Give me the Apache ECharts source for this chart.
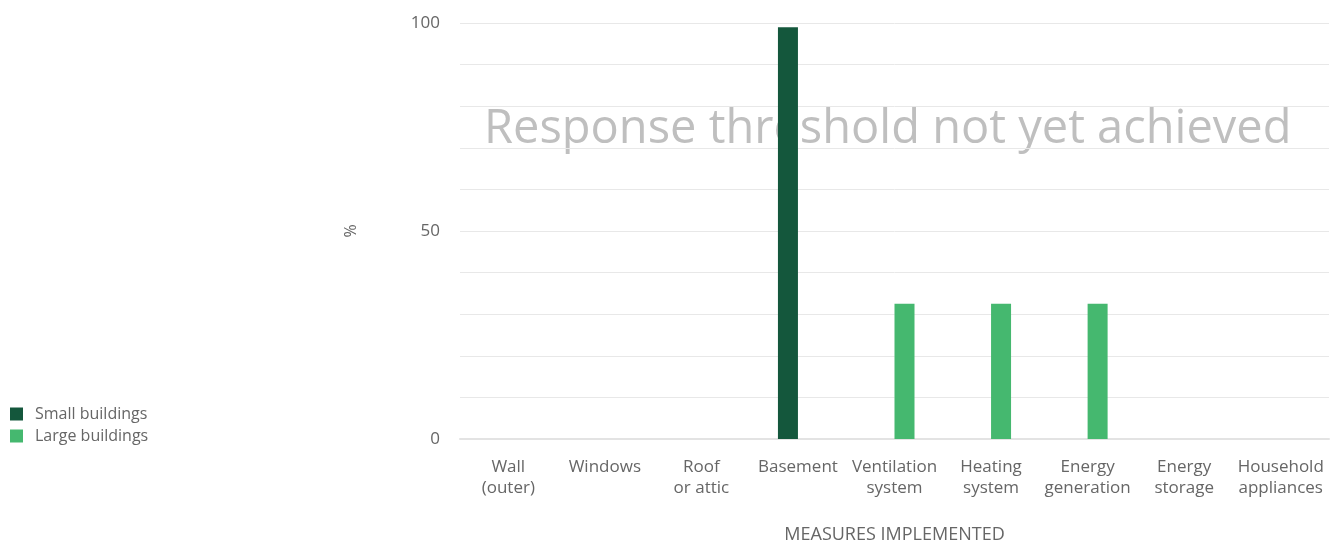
<!DOCTYPE html>
<html><head><meta charset="utf-8">
<script src="https://cdn.jsdelivr.net/npm/echarts@6/dist/echarts.min.js"></script>
<style>html,body{margin:0;padding:0;background:#fff}#c{width:1331px;height:540px}</style>
</head><body><div id="c"></div>
<script>
const categories = ['Wall\n(outer)','Windows','Roof\nor attic','Basement','Ventilation\nsystem','Heating\nsystem','Energy\ngeneration','Energy\nstorage','Household\nappliances'];
const smallBuildings = [0,0,0,99,0,0,0,0,0];
const largeBuildings = [0,0,0,0,32.5,32.5,32.5,0,0];
const yTickLabels = {0:'0',50:'50',100:'100'};
const FONT = '"Open Sans", "Noto Sans", sans-serif';
const chart = echarts.init(document.getElementById('c'));
chart.setOption({
  animation:false,
  textStyle:{fontFamily:FONT},
  legend:{
    orient:'vertical', left:10, top:406, padding:0, itemWidth:13, itemHeight:13, itemGap:6,
    icon:'rect',
    textStyle:{fontFamily:FONT, fontSize:16, color:'#666', padding:[0,0,0,7]},
    data:['Small buildings','Large buildings']
  },
  graphic:[{
    type:'text', left:484, top:106, z:0,
    style:{text:'Response threshold not yet achieved', fill:'#bfbfbf', font:'47px "Open Sans", "Noto Sans", sans-serif'}
  }],
  grid:{left:460, right:2, top:23, bottom:101, outerBoundsMode:'none', containLabel:false},
  xAxis:{
    type:'category', data:categories,
    axisLine:{lineStyle:{color:'#e3e3e3', width:2}},
    axisTick:{show:false},
    axisLabel:{fontFamily:FONT, fontSize:17, color:'#666', lineHeight:21, margin:18, interval:0},
    name:'MEASURES IMPLEMENTED', nameLocation:'middle', nameGap:87,
    nameTextStyle:{fontFamily:FONT, fontSize:18, color:'#666'}
  },
  yAxis:{
    type:'value', min:0, max:100, interval:10,
    axisLine:{show:false}, axisTick:{show:false},
    splitLine:{lineStyle:{color:'#e8e8e8', width:1}},
    axisLabel:{fontFamily:FONT, fontSize:17, color:'#666', margin:20,
      formatter:function(v){return yTickLabels[v]!==undefined?yTickLabels[v]:'';}},
    name:'%', nameLocation:'middle', nameGap:101, nameRotate:90,
    nameTextStyle:{fontFamily:FONT, fontSize:16, color:'#666'}
  },
  series:[
    {name:'Small buildings', type:'bar', data:smallBuildings, barWidth:20, barGap:'0%', itemStyle:{color:'#14573c'}, z:3},
    {name:'Large buildings', type:'bar', data:largeBuildings, barWidth:20, barGap:'0%', itemStyle:{color:'#45b86f'}, z:3}
  ]
});
</script></body></html>
